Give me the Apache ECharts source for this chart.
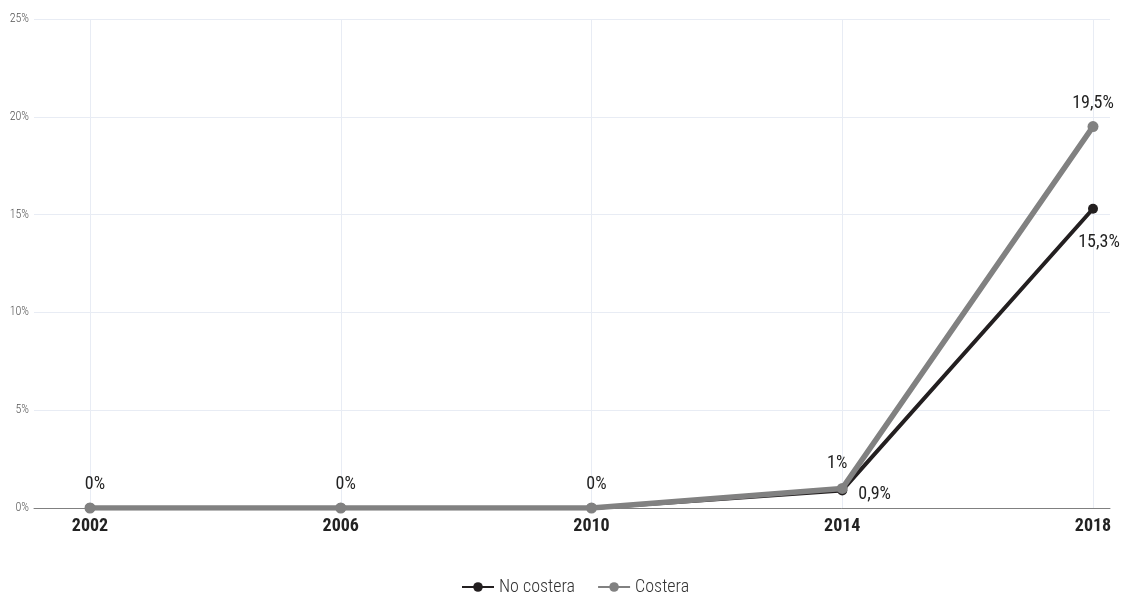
<!DOCTYPE html>
<html>
<head>
<meta charset="utf-8">
<script src="https://cdn.jsdelivr.net/npm/echarts@6/dist/echarts.min.js"></script>
<style>
html,body{margin:0;padding:0;background:#fff;}
#c{width:1139px;height:596px;}
</style>
</head>
<body>
<div id="c"></div>
<script>
var years = ['2002', '2006', '2010', '2014', '2018'];
var noCostera = [0, 0, 0, 0.9, 15.3];
var costera = [0, 0, 0, 1, 19.5];
var yTicks = [0, 5, 10, 15, 20, 25];

var FONT = '"Roboto Condensed", "Liberation Sans Narrow", Roboto, sans-serif';
function fmt(v) { return String(v).replace('.', ',') + '%'; }

var chart = echarts.init(document.getElementById('c'));

var noCosteraOffsets = [null, null, null, [6, 4], [6, 15]];
var costeraOffsets = [[5, -4], [5, -4], [5, -4], [-5, -5], [0, -4]];

var noCosteraData = noCostera.map(function (v, i) {
  var off = noCosteraOffsets[i];
  return { value: v, label: { show: !!off, position: i === 4 ? 'bottom' : 'right', offset: off || [0, 0] } };
});
var costeraData = costera.map(function (v, i) {
  return { value: v, label: { offset: costeraOffsets[i] } };
});

chart.setOption({
  animation: false,
  textStyle: { fontFamily: FONT },
  grid: [
    { left: 34, right: 29, top: 19, bottom: 88 },
    { left: 90, right: 46, top: 19, bottom: 88 }
  ],
  legend: {
    top: 573,
    left: 456,
    itemWidth: 32,
    itemHeight: 12,
    itemGap: 22,
    textStyle: { fontFamily: FONT, fontSize: 18, fontWeight: 300, color: '#333' },
    data: ['No costera', 'Costera']
  },
  xAxis: [
    {
      gridIndex: 0, type: 'value', min: 0, max: 1,
      axisLine: { show: true, lineStyle: { color: '#808080', width: 1 } },
      axisTick: { show: false }, axisLabel: { show: false }, splitLine: { show: false }
    },
    {
      gridIndex: 1, type: 'category', data: years, boundaryGap: false,
      axisLine: { show: false }, axisTick: { show: false },
      axisLabel: { fontFamily: FONT, fontSize: 18, fontWeight: 'bold', color: '#222', margin: 9 },
      splitLine: { show: true, lineStyle: { color: '#e8ecf4', width: 1 } }
    }
  ],
  yAxis: [
    {
      gridIndex: 0, type: 'value', min: yTicks[0], max: yTicks[yTicks.length - 1], interval: 5,
      axisLine: { show: false }, axisTick: { show: false },
      axisLabel: { fontFamily: FONT, fontSize: 12, fontWeight: 300, color: '#555', margin: 5, formatter: function (v) { return v + '%'; } },
      splitLine: { show: true, lineStyle: { color: '#e8ecf4', width: 1 } }
    },
    {
      gridIndex: 1, type: 'value', min: 0, max: 25, interval: 5, show: false,
      splitLine: { show: false }
    }
  ],
  series: [
    {
      name: 'No costera', type: 'line', xAxisIndex: 1, yAxisIndex: 1,
      data: noCosteraData,
      symbol: 'circle', symbolSize: 10, showAllSymbol: true,
      itemStyle: { color: '#231f20' },
      lineStyle: { color: '#231f20', width: 4 },
      label: { show: false, fontFamily: FONT, fontSize: 18, color: '#222', formatter: function (p) { return fmt(p.value); } },
      z: 3
    },
    {
      name: 'Costera', type: 'line', xAxisIndex: 1, yAxisIndex: 1,
      data: costeraData,
      symbol: 'circle', symbolSize: 11, showAllSymbol: true,
      itemStyle: { color: '#818181' },
      lineStyle: { color: '#818181', width: 5.5 },
      label: { show: true, position: 'top', fontFamily: FONT, fontSize: 18, color: '#222', formatter: function (p) { return fmt(p.value); } },
      z: 4
    }
  ]
});
</script>
</body>
</html>
